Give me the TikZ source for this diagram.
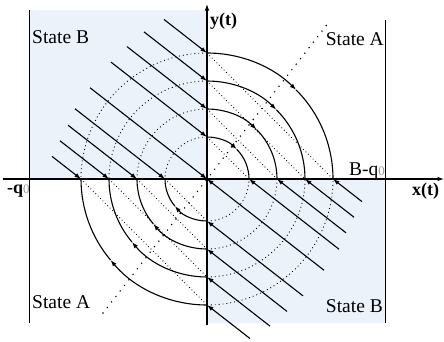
\documentclass[tikz,border=0pt]{standalone}
\usepackage{fontspec}
\setmainfont{Liberation Serif}
\usepackage{tikz}
\usetikzlibrary{arrows.meta}

\definecolor{shadeB}{RGB}{236,242,250}
\definecolor{subgray}{RGB}{150,150,150}

\tikzset{
  flowline/.style={line width=1.1pt, ->},
  orbit/.style={line width=1.1pt},
  dotarc/.style={line width=0.9pt, dash pattern=on 0.9pt off 3pt},
  chord/.style={line width=0.8pt, dash pattern=on 0.8pt off 2.6pt},
  switchline/.style={line width=1.6pt, line cap=round, dash pattern=on 0pt off 7pt},
  statelabel/.style={inner sep=0, font=\fontsize{19.5}{22}\selectfont},
  axislabel/.style={inner sep=0, font=\fontsize{18}{20}\selectfont\bfseries}
}

\begin{document}
\begin{tikzpicture}[x=1pt, y=1pt, >={Latex[length=6.5pt,width=4.5pt]}]
        \useasboundingbox (-207,-162) rectangle (237,179);

        % state B regions
        \fill[shadeB] (-177,0) rectangle (0,169);
        \fill[shadeB] (0,0) rectangle (178,-144);
        \draw[line width=1pt] (-177,169) -- (-177,-144);
        \draw[line width=1pt] (178,159) -- (178,-144);

        % dotted quarter circles in state B
        \foreach \r in {42,70,98,126} {
          \draw[dotarc] (0,\r) arc[start angle=90, end angle=180, radius=\r];
          \draw[dotarc] (0,-\r) arc[start angle=270, end angle=360, radius=\r];
          \draw[chord] (0,\r) -- (\r,0);
          \draw[chord] (-\r,0) -- (0,-\r);
        }

        % switching line
        \draw[switchline] (-104,-134) -- (122,157);

        % solid orbits in state A
        \foreach \r in {42,70,98,126} {
          \draw[orbit, ->] (0,\r) arc[start angle=90, end angle=45, radius=\r];
          \draw[orbit] (45:\r) arc[start angle=45, end angle=0, radius=\r];
          \draw[orbit, ->] (0,-\r) arc[start angle=270, end angle=220, radius=\r];
          \draw[orbit] (220:\r) arc[start angle=220, end angle=180, radius=\r];
        }

        % sliding lines onto the axes
        \foreach \r/\t in {126/43, 98/63, 70/80, 42/96, 0/117} {
          \draw[flowline] ({-\t},{\r+0.78*\t}) -- (0,\r);
          \draw[flowline] ({\t},{-\r-0.78*\t}) -- (0,-\r);
        }
        \foreach \r/\t in {42/90, 70/69, 98/49, 126/29} {
          \draw[flowline] ({-\r-\t},{0.78*\t}) -- (-\r,0);
          \draw[flowline] ({\r+\t},{-0.78*\t}) -- (\r,0);
        }

        % axes
        \draw[line width=1.1pt, ->] (-204,0) -- (237,0);
        \draw[line width=1.1pt, ->] (0,-146) -- (0,175);

        \node[axislabel, anchor=base west] at (3,154) {y(t)};
        \node[axislabel, anchor=base west] at (205,-16) {x(t)};
        \node[axislabel, anchor=base west] at (-200,-14) {-q\textcolor{subgray}{\mdseries\fontsize{13}{14}\selectfont 0}};
        \node[statelabel, anchor=base east] at (178,4) {B-q\textcolor{subgray}{\fontsize{13}{14}\selectfont 0}};

        \node[statelabel, anchor=base west] at (-175,136) {State B};
        \node[statelabel, anchor=base east] at (177,134) {State A};
        \node[statelabel, anchor=base west] at (-175,-129) {State A};
        \node[statelabel, anchor=base east] at (176,-133) {State B};
      \end{tikzpicture}
\end{document}
